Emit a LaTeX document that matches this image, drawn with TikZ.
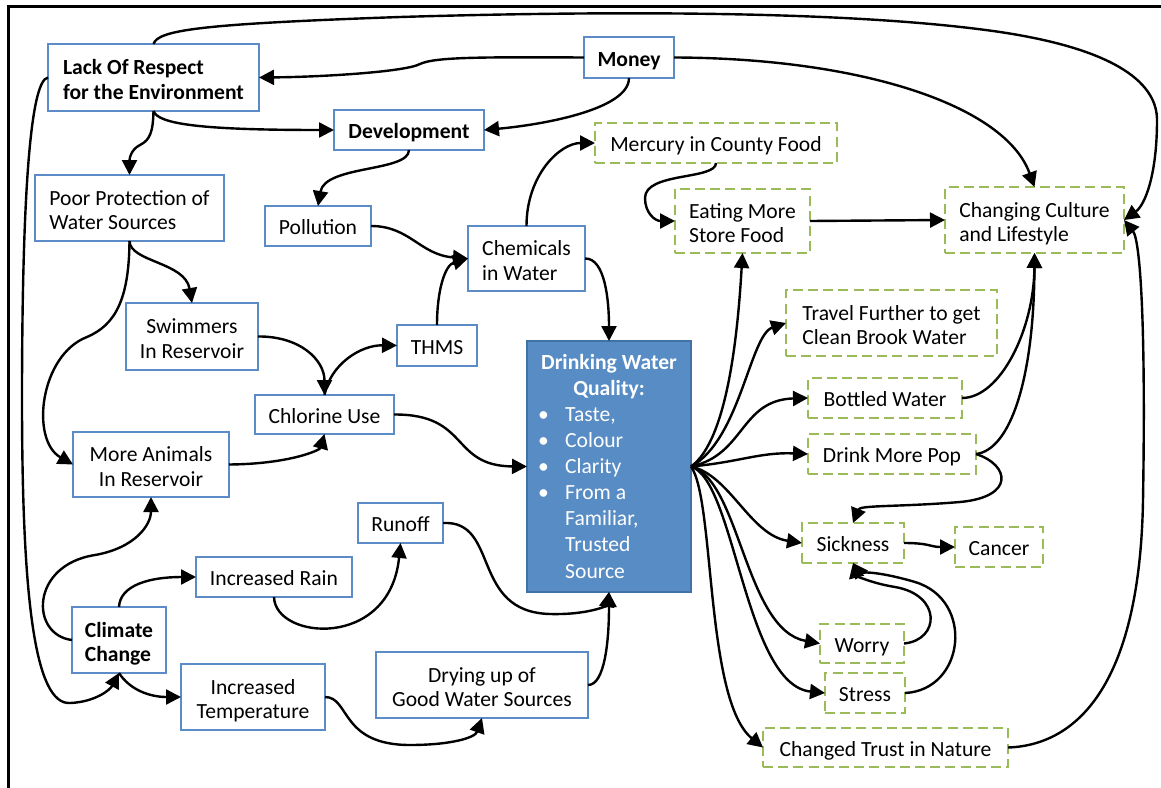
\documentclass[tikz,border=0pt]{standalone}
\usepackage{fontspec}
\setmainfont{Carlito}
\usetikzlibrary{arrows.meta}
\definecolor{boxblue}{RGB}{91,140,200}
\definecolor{boxgreen}{RGB}{155,187,89}
\definecolor{dwfill}{RGB}{88,140,196}
\definecolor{dwedge}{RGB}{65,113,165}
\newcommand\fs{\fontsize{10.8}{12.3}\selectfont}
\begin{document}
\begin{tikzpicture}[x=0.5pt,y=-0.5pt,
  every node/.style={font=\fs, inner sep=0pt, outer sep=0pt},
  one/.style={text height=10pt, text depth=1.5pt},
  two/.style={text height=21.9pt, text depth=0pt},
  bold/.style={font=\fs\bfseries},
  bluebox/.style={draw=boxblue, line width=1.2pt, fill=white},
  greenbox/.style={draw=boxgreen, line width=1.2pt, fill=white, dash pattern=on 5pt off 2.6pt},
  link/.style={line width=1.2pt, -{Triangle[length=7.5pt,width=7.5pt]}}
]
\useasboundingbox (0,0) rectangle (1161,787);
% page frame, open at right and bottom
\begin{scope}
  \clip (0,0) rectangle (1161,787);
  \draw[line width=1.5pt] (8,6) rectangle (1200,830);
\end{scope}

% causes (blue boxes)
\node[bluebox, bold, two, align=left, minimum width=105.5pt, minimum height=33.5pt] (lack) at (153.5,77.5) {Lack Of Respect\\for the Environment};
\node[bluebox, bold, one, minimum width=45pt, minimum height=20.5pt] (money) at (629,57.5) {Money};
\node[bluebox, bold, one, minimum width=75pt, minimum height=20pt] (dev) at (409,130) {Development};
\node[bluebox, two, align=left, minimum width=94.5pt, minimum height=33pt] (poor) at (129.5,208) {Poor Protection of\\Water Sources};
\node[bluebox, one, minimum width=53pt, minimum height=20pt] (pollution) at (318,226) {Pollution};
\node[bluebox, two, align=left, minimum width=58.5pt, minimum height=32.5pt] (chem) at (526.5,258.5) {Chemicals\\in Water};
\node[bluebox, two, align=center, minimum width=66pt, minimum height=33.5pt] (swim) at (192,336.5) {Swimmers\\In Reservoir};
\node[bluebox, one, minimum width=40pt, minimum height=20.5pt] (thms) at (437,345.5) {THMS};
\node[bluebox, one, minimum width=69.5pt, minimum height=19.5pt] (chlor) at (324.5,414.5) {Chlorine Use};
\node[bluebox, two, align=center, minimum width=78pt, minimum height=32.5pt] (animals) at (151,464.5) {More Animals\\In Reservoir};
\node[bluebox, one, minimum width=42.5pt, minimum height=20pt] (runoff) at (400.5,523) {Runoff};
\node[bluebox, one, minimum width=78pt, minimum height=20pt] (rain) at (274,577) {Increased Rain};
\node[bluebox, bold, two, align=left, minimum width=47pt, minimum height=33pt] (climate) at (119,640) {Climate\\Change};
\node[bluebox, two, align=center, minimum width=72pt, minimum height=33pt] (temp) at (253,697) {Increased\\Temperature};
\node[bluebox, two, align=center, minimum width=106pt, minimum height=33pt] (drying) at (482,685) {Drying up of\\Good Water Sources};

% central box
\node[draw=dwedge, fill=dwfill, line width=1.2pt, text=white, minimum width=82pt, minimum height=125.5pt,
      text height=11.1pt, text depth=108.2pt] (dw) at (609,466.5) {%
  \renewcommand\arraystretch{1.06}%
  \begin{tabular}[t]{@{}p{12pt}@{}l@{}}
  \multicolumn{2}{@{}c@{}}{\bfseries Drinking Water}\\
  \multicolumn{2}{@{}c@{}}{\bfseries Quality:}\\
  \hspace{-1.5pt}\textbullet & Taste,\\
  \hspace{-1.5pt}\textbullet & Colour\\
  \hspace{-1.5pt}\textbullet & Clarity\\
  \hspace{-1.5pt}\textbullet & From a\\
   & Familiar,\\
   & Trusted\\
   & Source
  \end{tabular}};

% effects (green dashed boxes)
\node[greenbox, one, minimum width=121pt, minimum height=20pt] (mercury) at (716,143) {Mercury in County Food};
\node[greenbox, two, align=left, minimum width=67.5pt, minimum height=32pt] (eating) at (742.5,221) {Eating More\\Store Food};
\node[greenbox, two, align=left, minimum width=89.5pt, minimum height=33pt] (culture) at (1034.5,220) {Changing Culture\\and Lifestyle};
\node[greenbox, two, align=left, minimum width=105.5pt, minimum height=33pt] (travel) at (891.5,323) {Travel Further to get\\Clean Brook Water};
\node[greenbox, one, minimum width=77pt, minimum height=20pt] (bottled) at (885,398) {Bottled Water};
\node[greenbox, one, minimum width=84pt, minimum height=20pt] (pop) at (892,454) {Drink More Pop};
\node[greenbox, one, minimum width=51pt, minimum height=20pt] (sick) at (853,543) {Sickness};
\node[greenbox, one, minimum width=44pt, minimum height=20pt] (cancer) at (999,547) {Cancer};
\node[greenbox, one, minimum width=42pt, minimum height=19.5pt] (worry) at (862,643.5) {Worry};
\node[greenbox, one, minimum width=40pt, minimum height=20pt] (stress) at (865,693) {Stress};
\node[greenbox, one, minimum width=122.5pt, minimum height=19.5pt] (trust) at (885.5,747.5) {Changed Trust in Nature};

% top of the map
\draw[link] (money.west) .. controls (480,57) and (435,57) .. (420,64) .. controls (405,72) and (320,77) .. (lack.east);
\draw[link] (lack.north) .. controls (158,30) and (200,24) .. (400,17) .. controls (600,11) and (850,10) .. (1000,32) .. controls (1120,50) and (1157,85) .. (1157,120) .. controls (1157,175) and (1145,205) .. (culture.east);
\draw[link] (lack.south) .. controls (158,124) and (200,130) .. (dev.west);
\draw[link] (lack.south) .. controls (153,132) and (150,140) .. (140,145) .. controls (130,150) and (129.5,160) .. (poor.north);
\draw[link] (money.south) .. controls (629,110) and (540,125) .. (dev.east);
\draw[link] (money.east) .. controls (860,58) and (1005,105) .. (culture.north);
\draw[link] (dev.south) .. controls (409,172) and (325,165) .. (pollution.north);
\draw[link] (pollution.east) .. controls (410,226) and (420,255) .. (chem.west);
\draw[link] (thms.north) .. controls (437,290) and (445,265) .. (chem.west);
\draw[link] (chem.north) .. controls (526.5,175) and (560,143) .. (mercury.west);
\draw[link] (chem.east) .. controls (605,258) and (609,300) .. (dw.north);
\draw[link] (mercury.south) .. controls (716,180) and (645,172) .. (645,198) .. controls (645,213) and (655,221) .. (eating.west);
\draw[link] (eating.east) -- (culture.west);

% consequences of water quality
\draw[link] (dw.east) .. controls (728,440) and (738,330) .. (eating.south);
\draw[link] (dw.east) .. controls (740,440) and (750,335) .. (travel.west);
\draw[link] (dw.east) .. controls (745,455) and (740,400) .. (bottled.west);
\draw[link] (dw.east) .. controls (740,462) and (760,452) .. (pop.west);
\draw[link] (dw.east) .. controls (730,475) and (750,535) .. (sick.west);
\draw[link] (dw.east) .. controls (740,480) and (745,630) .. (worry.west);
\draw[link] (dw.east) .. controls (735,480) and (745,685) .. (stress.west);
\draw[link] (dw.east) .. controls (715,500) and (705,700) .. (trust.west);

% water sources and treatment
\draw[link] (poor.south) .. controls (130,262) and (185,262) .. (swim.north);
\draw[link] (poor.south) .. controls (129,300) and (115,325) .. (87,337) .. controls (40,355) and (30,440) .. (animals.west);
\draw[link] (swim.east) .. controls (300,336) and (324.5,360) .. (chlor.north);
\draw[link] (chlor.north) .. controls (330,365) and (360,345) .. (thms.west);
\draw[link] (animals.east) .. controls (290,464) and (320,450) .. (chlor.south);
\draw[link] (chlor.east) .. controls (470,414) and (450,466) .. (dw.west);

% climate branch
\draw[link] (climate.west) .. controls (30,635) and (30,565) .. (95,555) .. controls (135,548) and (151,525) .. (animals.south);
\draw[link] (climate.north) .. controls (120,585) and (150,577) .. (rain.west);
\draw[link] (rain.south) .. controls (275,640) and (390,650) .. (runoff.south);
\draw[link] (runoff.east) .. controls (500,520) and (470,612) .. (550,614) .. controls (590,615) and (607,605) .. (dw.south);
\draw[link] (drying.east) .. controls (605,685) and (609,640) .. (dw.south);
\draw[link] (climate.south) .. controls (130,690) and (150,697) .. (temp.west);
\draw[link] (lack.west) .. controls (30,80) and (22,200) .. (22,400) .. controls (22,600) and (35,705) .. (70,703) .. controls (95,702) and (110,690) .. (climate.south);
\draw[link] (temp.east) .. controls (350,697) and (340,745) .. (410,745) .. controls (450,745) and (475,738) .. (drying.south);

% right side
\draw[link] (bottled.east) .. controls (1000,398) and (1034,330) .. (culture.south);
\draw[link] (pop.east) .. controls (1010,450) and (1034,380) .. (culture.south);
\draw[link] (pop.east) .. controls (1010,465) and (1015,497) .. (960,502) .. controls (900,507) and (860,505) .. (sick.north);
\draw[link] (sick.east) .. controls (930,543) and (930,547) .. (cancer.west);
\draw[link] (worry.east) .. controls (940,640) and (942,595) .. (895,587) .. controls (870,583) and (856,575) .. (sick.south);
\draw[link] (stress.east) .. controls (965,690) and (975,600) .. (915,582) .. controls (885,573) and (858,570) .. (sick.south);
\draw[link] (trust.east) .. controls (1080,745) and (1140,680) .. (1143,500) .. controls (1146,320) and (1140,240) .. (culture.east);
\end{tikzpicture}
\end{document}
